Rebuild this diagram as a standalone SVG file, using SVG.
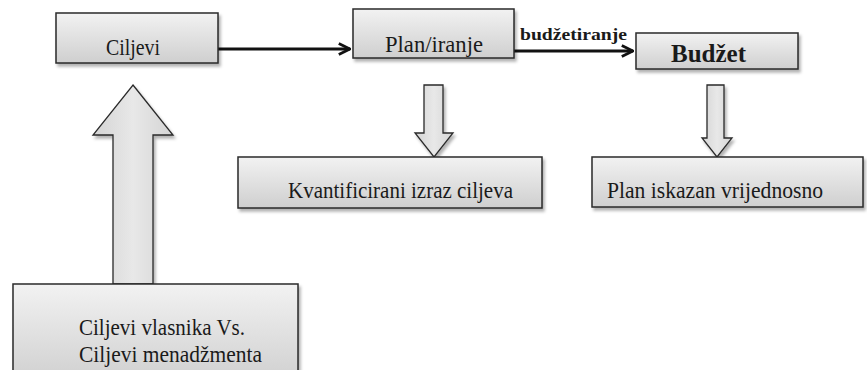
<svg xmlns="http://www.w3.org/2000/svg" width="867" height="370" viewBox="0 0 867 370">
<style>
.box{fill:url(#g);stroke:#2a2a2a;stroke-width:1.5;filter:url(#sh)}
.bigarrow{fill:url(#g2);stroke:#2a2a2a;stroke-width:1.3;filter:url(#sh)}
.t{font-family:"Liberation Serif","DejaVu Serif",serif;font-size:24px;fill:#1a1a1a}
.b{font-family:"Liberation Serif","DejaVu Serif",serif;font-weight:bold;fill:#1a1a1a}
.conn{stroke:#111;stroke-width:2.8;fill:none}
</style>
<defs>
<linearGradient id="g" x1="0" y1="0" x2="0" y2="1">
<stop offset="0" stop-color="#f2f2f2"/>
<stop offset="1" stop-color="#cfcfcf"/>
</linearGradient>
<linearGradient id="g2" x1="0" y1="0" x2="1" y2="0">
<stop offset="0" stop-color="#d4d4d4"/>
<stop offset="0.5" stop-color="#e8e8e8"/>
<stop offset="1" stop-color="#d4d4d4"/>
</linearGradient>
<filter id="sh" x="-10%" y="-10%" width="130%" height="140%">
<feDropShadow dx="2" dy="3" stdDeviation="1.5" flood-color="#000" flood-opacity="0.3"/>
</filter>
<marker id="ah" viewBox="0 0 10 10" refX="9" refY="5" markerWidth="5" markerHeight="5" orient="auto" markerUnits="strokeWidth">
<path d="M1,1 L9,5 L1,9" fill="none" stroke="#111" stroke-width="2"/>
</marker>
</defs>

<g id="connectors">
<line class="conn" x1="218" y1="49" x2="350" y2="49" marker-end="url(#ah)"/>
<line class="conn" x1="514" y1="51" x2="633" y2="51" marker-end="url(#ah)"/>
<text class="b" x="520" y="40" font-size="17" textLength="107" lengthAdjust="spacingAndGlyphs">budžetiranje</text>
</g>

<g id="arrow-up">
<polygon class="bigarrow" points="133,85 173,135 153,135 153,284 113,284 113,135 93,135"/>
</g>
<g id="arrow-plan">
<polygon class="bigarrow" points="424,85 443,85 443,133 453,133 434,157 415,133 424,133"/>
</g>
<g id="arrow-budzet">
<polygon class="bigarrow" points="707,85 724,85 724,138 732,138 717,157 702,138 707,138"/>
</g>

<g id="ciljevi">
<rect class="box" x="56" y="13" width="162" height="50"/>
<text class="t" x="106" y="55" textLength="54" lengthAdjust="spacingAndGlyphs">Ciljevi</text>
</g>

<g id="plan">
<rect class="box" x="353" y="9" width="161" height="49"/>
<text class="t" x="385" y="52" textLength="98" lengthAdjust="spacingAndGlyphs">Plan/iranje</text>
</g>

<g id="budzet">
<rect class="box" x="636" y="33" width="162" height="36"/>
<text class="b" x="671" y="62" font-size="26" textLength="75" lengthAdjust="spacingAndGlyphs">Budžet</text>
</g>

<g id="kvantificirani">
<rect class="box" x="238" y="157" width="304" height="51"/>
<text class="t" x="288" y="198" textLength="225" lengthAdjust="spacingAndGlyphs">Kvantificirani izraz ciljeva</text>
</g>

<g id="plan-iskazan">
<rect class="box" x="592" y="157" width="271" height="50"/>
<text class="t" x="607" y="198" textLength="216" lengthAdjust="spacingAndGlyphs">Plan iskazan vrijednosno</text>
</g>

<g id="ciljevi-vlasnika">
<rect class="box" x="13" y="284" width="285" height="100"/>
<text class="t" x="79" y="335" textLength="166" lengthAdjust="spacingAndGlyphs">Ciljevi vlasnika  Vs.</text>
<text class="t" x="79" y="362" textLength="183" lengthAdjust="spacingAndGlyphs">Ciljevi menadžmenta</text>
</g>
</svg>
